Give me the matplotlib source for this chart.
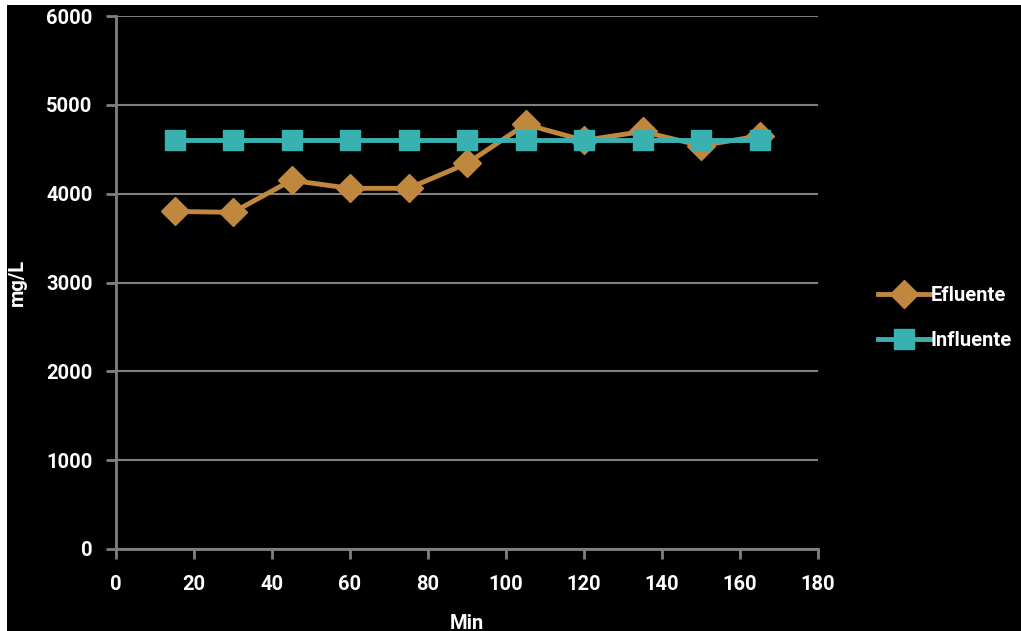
import matplotlib
matplotlib.use("Agg")
import matplotlib.pyplot as plt
from matplotlib.patches import Rectangle

plt.rcParams['font.family'] = ['Roboto', 'DejaVu Sans']

minutos = [15, 30, 45, 60, 75, 90, 105, 120, 135, 150, 165]
efluente = [3800, 3790, 4150, 4060, 4060, 4340, 4780, 4600, 4700, 4540, 4650]
influente = [4600] * 11

x_ticks = list(range(0, 181, 20))
y_ticks = list(range(0, 6001, 1000))

fig = plt.figure(figsize=(10.21, 6.31), dpi=100)
fig.patch.set_facecolor('white')
# fondo negro con un borde blanco fino arriba e izquierda
fig.patches.append(Rectangle((7 / 1021, 0), 1, 1 - 5 / 631, transform=fig.transFigure,
                             facecolor='black', edgecolor='none', zorder=-10))

ax = fig.add_axes([116 / 1021, 82 / 631, 702 / 1021, 533 / 631])
ax.set_facecolor('black')

gris = '#808080'
ax.set_xlim(0, 180)
ax.set_ylim(0, 6000)
ax.set_xticks(x_ticks)
ax.set_yticks(y_ticks)
ax.yaxis.grid(True, color=gris, linewidth=1.5)
ax.set_axisbelow(True)
for s in ['top', 'right']:
    ax.spines[s].set_visible(False)
for s in ['left', 'bottom']:
    ax.spines[s].set_color(gris)
    ax.spines[s].set_linewidth(2)
ax.tick_params(axis='both', direction='out', color=gris, width=2, length=7,
               labelcolor='white', labelsize=14.5)
ax.tick_params(axis='x', pad=12)
ax.tick_params(axis='y', pad=10)
for lab in ax.get_xticklabels() + ax.get_yticklabels():
    lab.set_fontweight('bold')

ax.plot(minutos, efluente, color='#C0873F', linewidth=3.5, marker='D', markersize=14,
        label='Efluente', clip_on=False)
ax.plot(minutos, influente, color='#3AB1B1', linewidth=3.5, marker='s', markersize=15,
        label='Influente', clip_on=False)

ax.set_xlabel('Min', color='white', fontsize=14.5, fontweight='bold', labelpad=14)
ax.set_ylabel('mg/L', color='white', fontsize=14.5, fontweight='bold', labelpad=14)

leg = ax.legend(loc='center left', bbox_to_anchor=(1.06, 0.434), frameon=False,
                fontsize=14.5, handlelength=2.6, labelspacing=1.3, handletextpad=0.0)
for t in leg.get_texts():
    t.set_color('white')
    t.set_fontweight('bold')

fig.savefig('out.png', dpi=100, facecolor=fig.get_facecolor())
